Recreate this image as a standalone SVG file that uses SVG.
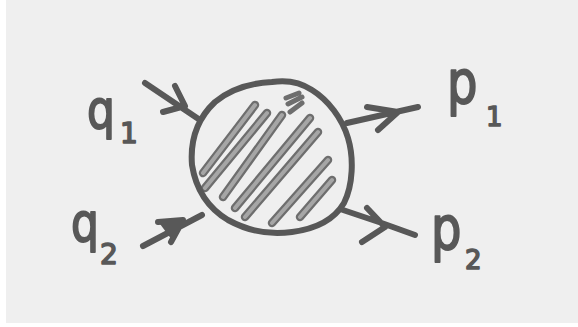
<svg xmlns="http://www.w3.org/2000/svg" width="578" height="327" viewBox="0 0 578 327">
<style>
.ink{fill:none;stroke:#585858;stroke-width:6;stroke-linecap:round;stroke-linejoin:round}
.hatch{fill:none;stroke:#6e6e6e;stroke-width:8.5;stroke-linecap:round}
.hatchin{fill:none;stroke:#a6a6a6;stroke-width:4;stroke-linecap:round}
.lbl{font-family:"DejaVu Sans","Liberation Sans",sans-serif;fill:#585858;stroke:#585858;stroke-width:1.6;stroke-linejoin:round}
</style>
<rect x="0" y="0" width="578" height="327" fill="#ffffff"/>
<rect x="6" y="0" width="572" height="323" fill="#efefef"/>

<g id="blob">
  <g id="hatching">
    <path class="hatch" d="M203,173 L255,105 M205,188 L267,113 M223,197 L282,115 M235,208 L310,118 M245,217 L318,132 M272,223 L328,160 M300,217 L332,180"/>
    <path class="hatchin" d="M203,173 L255,105 M205,188 L267,113 M223,197 L282,115 M235,208 L310,118 M245,217 L318,132 M272,223 L328,160 M300,217 L332,180"/>
    <path fill="none" stroke="#6e6e6e" stroke-width="5" stroke-linecap="round" d="M286,98 L299,93 M288,104 L302,97 M290,112 L302,103"/>
  </g>
  <path class="ink" d="M272,82 C285,80 300,82 312,90 C328,100 342,118 348,138 C354,158 353,185 344,203 C334,220 315,229 292,232 C272,235 250,232 228,220 C208,208 196,190 192,165 C190,140 198,118 215,102 C232,88 252,83 272,82 Z"/>
</g>

<g id="connectors">
  <g id="arrow-q1"><path class="ink" d="M145,83 L200,120 M175,86 L185,106 L163,112"/></g>
  <g id="arrow-q2"><path class="ink" d="M143,246 L202,215 M158,222 L183,220 L171,242"/><path d="M160,224 L182,220 L172,240 Z" fill="#585858"/></g>
  <g id="arrow-p1"><path class="ink" d="M347,123 L418,107 M367,107 L398,112 L378,130"/></g>
  <g id="arrow-p2"><path class="ink" d="M343,210 Q380,222 415,235 M367,208 L385,227 L362,242"/></g>
</g>

<g id="label-q1"><text class="lbl" transform="translate(87,128) scale(1,1.2)" font-size="44">q</text><text class="lbl" x="120" y="143" font-size="28">1</text></g>
<g id="label-q2"><text class="lbl" transform="translate(71,241) scale(1,1.2)" font-size="44">q</text><text class="lbl" x="100" y="264" font-size="28">2</text></g>
<g id="label-p1"><text class="lbl" transform="translate(447,103) scale(1,1.25)" font-size="48">p</text><text class="lbl" x="486" y="126" font-size="26">1</text></g>
<g id="label-p2"><text class="lbl" transform="translate(431,249) scale(1,1.25)" font-size="48">p</text><text class="lbl" x="465" y="269" font-size="26">2</text></g>
</svg>
